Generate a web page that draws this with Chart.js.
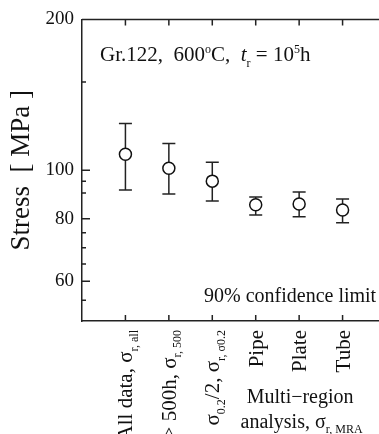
<!DOCTYPE html>
<html>
<head>
<meta charset="utf-8">
<script src="https://cdn.jsdelivr.net/npm/chart.js@4/dist/chart.umd.min.js"></script>
<style>
  html, body { margin: 0; padding: 0; background: #fff; overflow: hidden; }
  #wrap { width: 379px; height: 434px; overflow: hidden; }
</style>
</head>
<body>
<div id="wrap"><canvas id="c" width="400" height="434"></canvas></div>
<script>
// category positions on the x axis (1..6)
const categoryPos = [1, 2, 3, 4, 5, 6];
// mean stress and 90% confidence limits (MPa)
const stressMean  = [107.6, 100.9, 95.1, 85.3, 85.6, 83.3];
const stressLower = [91.3, 89.6, 86.8, 81.4, 80.7, 78.5];
const stressUpper = [123.9, 113.1, 103.7, 88.4, 90.5, 87.6];
// y axis ticks
const yTickValues = [60, 80, 100, 200];
const yMinorTicks = [55, 65, 70, 75, 90, 95, 150];

// category labels as text runs: [text, kind] kind = n | sub | sup | it
const categoryLabels = [
  [['All data, σ', 'n'], ['r, all', 'sub']],
  [['t', 'n'], ['r', 'sub'], [' > 500h, σ', 'n'], ['r, 500', 'sub']],
  [['σ', 'n'], ['0.2', 'sub'], ['/2, σ', 'n'], ['r, σ0.2', 'sub']],
  [['Pipe', 'n']],
  [['Plate', 'n']],
  [['Tube', 'n']]
];
const groupLabel1 = [['Multi\u2212region', 'n']];
const groupLabel2 = [['analysis, σ', 'n'], ['r, MRA', 'sub']];
const titleRuns = [['Gr.122,  600', 'n'], ['o', 'sup'], ['C,  ', 'n'], ['t', 'it'], ['r', 'sub'], [' = 10', 'n'], ['5', 'sup'], ['h', 'n']];
const noteText = '90% confidence limit';

const ink = '#111';
const serif = '"Liberation Serif", "Times New Roman", serif';

function setRunFont(ctx, kind, size) {
  const small = kind === 'sub' || kind === 'sup';
  const s = small ? Math.round(size * 0.58) : size;
  ctx.font = (kind === 'it' ? 'italic ' : '') + s + 'px ' + serif;
}
function runsWidth(ctx, runs, size) {
  let w = 0;
  for (const [t, k] of runs) { setRunFont(ctx, k, size); w += ctx.measureText(t).width; }
  return w;
}
function drawRuns(ctx, runs, x, y, size) {
  let cx = x;
  for (const [t, k] of runs) {
    setRunFont(ctx, k, size);
    const dy = k === 'sub' ? size * 0.25 : (k === 'sup' ? -size * 0.42 : 0);
    ctx.fillText(t, cx, y + dy);
    cx += ctx.measureText(t).width;
  }
}

const decorPlugin = {
  id: 'decor',
  afterDraw(chart) {
    const {ctx, chartArea: a, scales: {x, y}} = chart;
    ctx.save();
    ctx.strokeStyle = '#222';
    ctx.lineWidth = 1.5;
    ctx.beginPath();
    ctx.moveTo(a.left, a.top); ctx.lineTo(a.right, a.top);
    categoryPos.forEach(v => {
      const px = x.getPixelForValue(v);
      ctx.moveTo(px, a.bottom); ctx.lineTo(px, a.bottom - 6);
      ctx.moveTo(px, a.top); ctx.lineTo(px, a.top + 6);
    });
    yTickValues.forEach(v => {
      const py = y.getPixelForValue(v);
      ctx.moveTo(a.left, py); ctx.lineTo(a.left + 8, py);
    });
    yMinorTicks.forEach(v => {
      const py = y.getPixelForValue(v);
      ctx.moveTo(a.left, py); ctx.lineTo(a.left + 4, py);
    });
    ctx.stroke();

    ctx.fillStyle = ink;
    ctx.textBaseline = 'alphabetic';
    ctx.textAlign = 'left';
    // header annotation
    drawRuns(ctx, titleRuns, a.left + 18, a.top + 42, 21);
    // note
    ctx.font = '20px ' + serif;
    ctx.fillText(noteText, 204, y.getPixelForValue(50) - 19);

    // rotated category labels
    categoryLabels.forEach((runs, i) => {
      const px = x.getPixelForValue(categoryPos[i]);
      const w = runsWidth(ctx, runs, 21);
      ctx.save();
      ctx.translate(px + 7, a.bottom + 9);
      ctx.rotate(-Math.PI / 2);
      drawRuns(ctx, runs, -w, 0, 21);
      ctx.restore();
    });

    // group label for the multi-region analysis
    const cx = (x.getPixelForValue(4) + x.getPixelForValue(6)) / 2;
    const w1 = runsWidth(ctx, groupLabel1, 20);
    drawRuns(ctx, groupLabel1, cx - w1 / 2 + 1, a.bottom + 82, 20);
    drawRuns(ctx, groupLabel2, x.getPixelForValue(3.65), a.bottom + 107, 20);
    ctx.restore();
  }
};

const errorSets = categoryPos.map((c, i) => ({
  type: 'line',
  data: [{x: c, y: stressLower[i]}, {x: c, y: stressUpper[i]}],
  showLine: true,
  borderColor: '#222',
  borderWidth: 1.5,
  pointStyle: 'line',
  pointRadius: 6.5,
  pointBorderColor: '#222',
  pointBorderWidth: 1.5,
  order: 2
}));

new Chart(document.getElementById('c'), {
  type: 'scatter',
  data: {
    datasets: [
      {
        data: categoryPos.map((c, i) => ({x: c, y: stressMean[i]})),
        pointStyle: 'circle',
        pointRadius: 6,
        pointBackgroundColor: '#fff',
        pointBorderColor: '#111',
        pointBorderWidth: 1.5,
        order: 1
      },
      ...errorSets
    ]
  },
  options: {
    responsive: false,
    animation: false,
    devicePixelRatio: 1,
    layout: { padding: { top: 16, bottom: 113, left: 0, right: 14 } },
    plugins: { legend: { display: false }, tooltip: { enabled: false } },
    scales: {
      x: {
        type: 'linear',
        min: 0,
        max: 7,
        ticks: { display: false },
        grid: { display: false, drawTicks: false },
        border: { display: true, color: '#222', width: 1.5 },
        afterFit: s => { s.height = 0; }
      },
      y: {
        type: 'logarithmic',
        min: 50,
        max: 200,
        afterBuildTicks: s => { s.ticks = yTickValues.map(v => ({value: v})); },
        afterFit: s => { s.width = 82; },
        ticks: {
          color: ink,
          padding: 8,
          font: { family: serif, size: 19 },
          callback: v => String(v)
        },
        grid: { display: false, drawTicks: false },
        border: { display: true, color: '#222', width: 1.5 },
        title: {
          display: true,
          text: 'Stress  [ MPa ]',
          color: ink,
          font: { family: serif, size: 27 },
          padding: { top: 6, bottom: 0 }
        }
      }
    }
  },
  plugins: [decorPlugin]
});
</script>
</body>
</html>
